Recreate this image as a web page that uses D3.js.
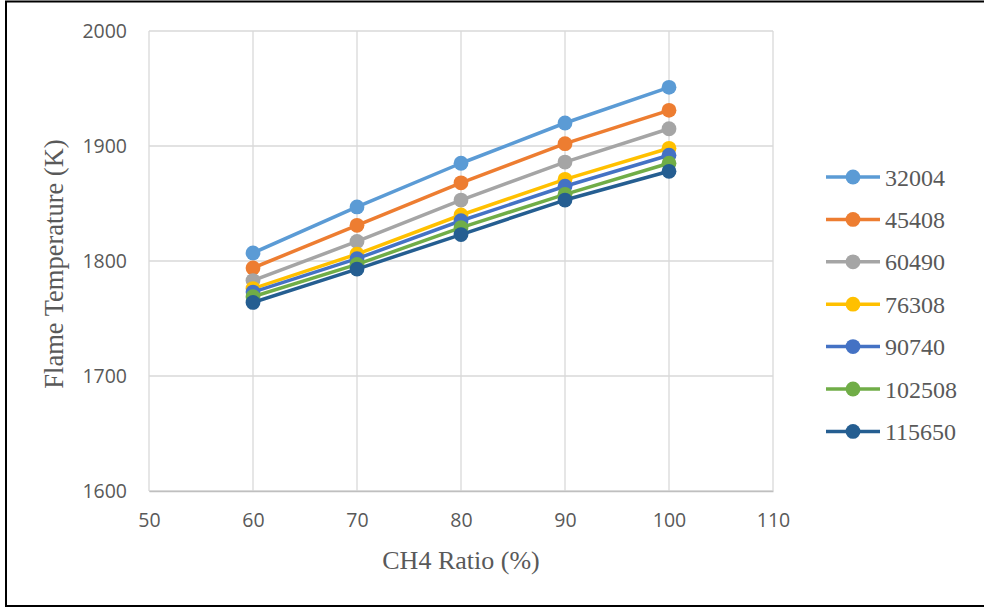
<!DOCTYPE html>
<html>
<head>
<meta charset="utf-8">
<script src="https://cdn.jsdelivr.net/npm/d3@7"></script>
<style>
  html, body { margin: 0; padding: 0; background: #fff; }
  svg { display: block; }
</style>
</head>
<body>
<svg id="chart" width="984" height="608"></svg>
<script>
// CH4 ratio (%) on the x axis
const ch4Ratio = [60, 70, 80, 90, 100];

// Series names (legend labels)
const seriesNames = ["32004", "45408", "60490", "76308", "90740", "102508", "115650"];

// Flame temperature (K) for each series
const temp32004  = [1807, 1847, 1885, 1920, 1951];
const temp45408  = [1794, 1831, 1868, 1902, 1931];
const temp60490  = [1783, 1817, 1853, 1886, 1915];
const temp76308  = [1776, 1806, 1840, 1871, 1898];
const temp90740  = [1773, 1802, 1835, 1865, 1892];
const temp102508 = [1769, 1797, 1829, 1858, 1885];
const temp115650 = [1764, 1793, 1823, 1853, 1878];

const seriesColors = ["#5B9BD5", "#ED7D31", "#A5A5A5", "#FFC000", "#4472C4", "#70AD47", "#255E91"];

// Axis ticks
const xTicks = [50, 60, 70, 80, 90, 100, 110];
const yTicks = [1600, 1700, 1800, 1900, 2000];

const seriesValues = [temp32004, temp45408, temp60490, temp76308, temp90740, temp102508, temp115650];
const series = seriesNames.map((name, i) => ({
  name,
  color: seriesColors[i],
  points: ch4Ratio.map((x, j) => ({ x, y: seriesValues[i][j] }))
}));

const svg = d3.select("#chart");

// Outer frame
svg.append("rect")
  .attr("x", 6).attr("y", 1.5)
  .attr("width", 992).attr("height", 604.5)
  .attr("fill", "none").attr("stroke", "#000").attr("stroke-width", 2);

const plot = { left: 149, right: 773, top: 31, bottom: 491 };

const x = d3.scaleLinear().domain([50, 110]).range([plot.left, plot.right]);
const y = d3.scaleLinear().domain([1600, 2000]).range([plot.bottom, plot.top]);

// Gridlines
const grid = svg.append("g");
grid.selectAll("line.h").data(yTicks).join("line")
  .attr("x1", plot.left).attr("x2", plot.right)
  .attr("y1", d => y(d)).attr("y2", d => y(d))
  .attr("stroke", "#d9d9d9").attr("stroke-width", 1.3);
grid.selectAll("line.v").data(xTicks).join("line")
  .attr("y1", plot.top).attr("y2", plot.bottom)
  .attr("x1", d => x(d)).attr("x2", d => x(d))
  .attr("stroke", "#d9d9d9").attr("stroke-width", 1.3);

// Axes (labels only, no tick marks), bottom axis line
const tickFont = "'Open Sans', 'Liberation Sans', sans-serif";
const xAxis = svg.append("g")
  .attr("transform", `translate(0,${plot.bottom})`)
  .call(d3.axisBottom(x).tickValues(xTicks).tickSize(0).tickPadding(22).tickFormat(d3.format("d")));
xAxis.select(".domain").attr("stroke", "#bfbfbf").attr("stroke-width", 1.3);
xAxis.selectAll("text").attr("fill", "#595959").style("font-family", tickFont).style("font-size", "19.5px");

const yAxis = svg.append("g")
  .attr("transform", `translate(${plot.left},0)`)
  .call(d3.axisLeft(y).tickValues(yTicks).tickSize(0).tickPadding(22).tickFormat(d3.format("d")));
yAxis.select(".domain").remove();
yAxis.selectAll("text").attr("fill", "#595959").style("font-family", tickFont).style("font-size", "19.5px");

// Axis titles
const serif = "'Liberation Serif', 'Times New Roman', serif";
svg.append("text")
  .attr("x", (plot.left + plot.right) / 2).attr("y", 569)
  .attr("text-anchor", "middle")
  .attr("fill", "#595959")
  .style("font-family", serif).style("font-size", "26px")
  .text("CH4 Ratio (%)");

svg.append("text")
  .attr("transform", `translate(63,${(plot.top + plot.bottom) / 2 + 3}) rotate(-90)`)
  .attr("text-anchor", "middle")
  .attr("fill", "#595959")
  .style("font-family", serif).style("font-size", "26.5px")
  .text("Flame Temperature (K)");

// Lines and markers
const line = d3.line().x(d => x(d.x)).y(d => y(d.y));
const seriesG = svg.append("g").selectAll("g").data(series).join("g");
seriesG.append("path")
  .attr("d", d => line(d.points))
  .attr("fill", "none")
  .attr("stroke", d => d.color)
  .attr("stroke-width", 3.5)
  .attr("stroke-linejoin", "round");
seriesG.selectAll("circle").data(d => d.points.map(p => ({ ...p, color: d.color }))).join("circle")
  .attr("cx", d => x(d.x)).attr("cy", d => y(d.y))
  .attr("r", 7.4)
  .attr("fill", d => d.color);

// Legend
const legend = svg.append("g").attr("transform", "translate(826,177)");
const rowH = 42.4;
const item = legend.selectAll("g").data(series).join("g")
  .attr("transform", (d, i) => `translate(0,${i * rowH})`);
item.append("line")
  .attr("x1", 0).attr("x2", 54).attr("y1", 0).attr("y2", 0)
  .attr("stroke", d => d.color).attr("stroke-width", 3.5);
item.append("circle")
  .attr("cx", 27).attr("cy", 0).attr("r", 7.4)
  .attr("fill", d => d.color);
item.append("text")
  .attr("x", 59).attr("y", 8.5)
  .attr("fill", "#595959")
  .style("font-family", serif).style("font-size", "24px")
  .text(d => d.name);
</script>
</body>
</html>
